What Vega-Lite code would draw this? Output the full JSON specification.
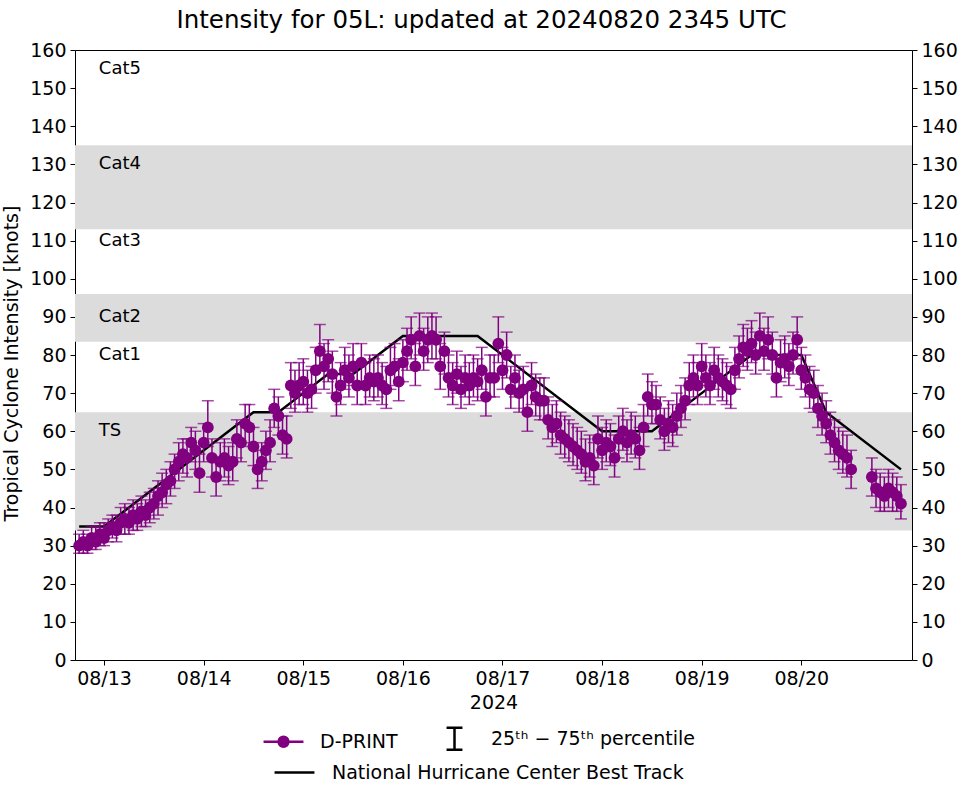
{
  "$schema": "https://vega.github.io/schema/vega-lite/v6.json",
  "width": 837,
  "height": 610,
  "autosize": "none",
  "padding": {"left": 75, "top": 50, "right": 50, "bottom": 125},
  "background": "white",
  "config": {
    "font": "DejaVu Sans",
    "view": {"stroke": "black", "strokeWidth": 1},
    "axis": {"labelColor": "black", "titleColor": "black", "tickColor": "black", "titleFontWeight": "normal", "grid": false, "domain": false, "labelFont": "DejaVu Sans", "titleFont": "DejaVu Sans"},
    "axisX": {"format": "%m/%d", "labelOverlap": false, "labelFontSize": 19, "labelPadding": 4, "tickSize": 5, "titleFontSize": 19, "titlePadding": 5},
    "text": {"font": "DejaVu Sans"}
  },
  "title": {"text": "Intensity for 05L: updated at 20240820 2345 UTC", "fontSize": 24.5, "fontWeight": "normal", "anchor": "middle", "frame": "group", "dx": -12, "offset": 8, "color": "black", "font": "DejaVu Sans"},
  "datasets": {
    "bands": [{"lo": 34, "hi": 65}, {"lo": 83.5, "hi": 96}, {"lo": 113, "hi": 135}],
    "cats": [{"label": "TS", "v": 60}, {"label": "Cat1", "v": 80}, {"label": "Cat2", "v": 90}, {"label": "Cat3", "v": 110}, {"label": "Cat4", "v": 130}, {"label": "Cat5", "v": 155}],
    "bt": [
      {"t": "2024-08-12T18:00", "v": 35}, {"t": "2024-08-13T00:00", "v": 35}, {"t": "2024-08-14T12:00", "v": 65}, {"t": "2024-08-14T18:00", "v": 65},
      {"t": "2024-08-15T00:00", "v": 70}, {"t": "2024-08-15T06:00", "v": 75}, {"t": "2024-08-15T12:00", "v": 75}, {"t": "2024-08-15T18:00", "v": 80},
      {"t": "2024-08-16T00:00", "v": 85}, {"t": "2024-08-16T18:00", "v": 85}, {"t": "2024-08-18T00:00", "v": 60}, {"t": "2024-08-18T12:00", "v": 60},
      {"t": "2024-08-19T00:00", "v": 70}, {"t": "2024-08-19T12:00", "v": 80}, {"t": "2024-08-20T00:00", "v": 80}, {"t": "2024-08-20T06:00", "v": 65},
      {"t": "2024-08-21T00:00", "v": 50}
    ],
    "leg1": [{"s": "D-PRINT"}, {"s": "25ᵗʰ − 75ᵗʰ percentile"}],
    "leg2": [{"b": "National Hurricane Center Best Track"}],
    "dp": [
      {"t": "2024-08-12T18:00", "v": 30, "lo": 28, "hi": 33},
      {"t": "2024-08-12T19:00", "v": 31, "lo": 28, "hi": 34},
      {"t": "2024-08-12T20:00", "v": 30, "lo": 28, "hi": 33},
      {"t": "2024-08-12T21:00", "v": 32, "lo": 29, "hi": 35},
      {"t": "2024-08-12T22:00", "v": 31, "lo": 29, "hi": 35},
      {"t": "2024-08-12T23:00", "v": 33, "lo": 30, "hi": 36},
      {"t": "2024-08-13T00:00", "v": 32, "lo": 30, "hi": 36},
      {"t": "2024-08-13T01:00", "v": 34, "lo": 31, "hi": 37},
      {"t": "2024-08-13T02:00", "v": 35, "lo": 32, "hi": 38},
      {"t": "2024-08-13T03:00", "v": 34, "lo": 31, "hi": 38},
      {"t": "2024-08-13T04:00", "v": 36, "lo": 33, "hi": 40},
      {"t": "2024-08-13T05:00", "v": 37, "lo": 33, "hi": 41},
      {"t": "2024-08-13T06:00", "v": 36, "lo": 33, "hi": 40},
      {"t": "2024-08-13T07:00", "v": 38, "lo": 34, "hi": 42},
      {"t": "2024-08-13T08:00", "v": 37, "lo": 34, "hi": 41},
      {"t": "2024-08-13T09:00", "v": 39, "lo": 35, "hi": 43},
      {"t": "2024-08-13T10:00", "v": 38, "lo": 35, "hi": 42},
      {"t": "2024-08-13T11:00", "v": 40, "lo": 36, "hi": 44},
      {"t": "2024-08-13T12:00", "v": 41, "lo": 37, "hi": 45},
      {"t": "2024-08-13T13:00", "v": 43, "lo": 38, "hi": 47},
      {"t": "2024-08-13T14:00", "v": 44, "lo": 40, "hi": 49},
      {"t": "2024-08-13T15:00", "v": 46, "lo": 41, "hi": 50},
      {"t": "2024-08-13T16:00", "v": 47, "lo": 43, "hi": 52},
      {"t": "2024-08-13T17:00", "v": 50, "lo": 45, "hi": 54},
      {"t": "2024-08-13T18:00", "v": 52, "lo": 47, "hi": 57},
      {"t": "2024-08-13T19:00", "v": 54, "lo": 49, "hi": 58},
      {"t": "2024-08-13T20:00", "v": 53, "lo": 48, "hi": 58},
      {"t": "2024-08-13T21:00", "v": 57, "lo": 52, "hi": 61},
      {"t": "2024-08-13T22:00", "v": 55, "lo": 50, "hi": 60},
      {"t": "2024-08-13T23:00", "v": 49, "lo": 44, "hi": 54},
      {"t": "2024-08-14T00:00", "v": 57, "lo": 52, "hi": 62},
      {"t": "2024-08-14T01:00", "v": 61, "lo": 56, "hi": 68},
      {"t": "2024-08-14T02:00", "v": 53, "lo": 48, "hi": 58},
      {"t": "2024-08-14T03:00", "v": 48, "lo": 43, "hi": 53},
      {"t": "2024-08-14T04:00", "v": 52, "lo": 47, "hi": 57},
      {"t": "2024-08-14T05:00", "v": 53, "lo": 48, "hi": 58},
      {"t": "2024-08-14T06:00", "v": 51, "lo": 46, "hi": 56},
      {"t": "2024-08-14T07:00", "v": 52, "lo": 47, "hi": 57},
      {"t": "2024-08-14T08:00", "v": 58, "lo": 53, "hi": 63},
      {"t": "2024-08-14T09:00", "v": 57, "lo": 52, "hi": 62},
      {"t": "2024-08-14T10:00", "v": 62, "lo": 57, "hi": 67},
      {"t": "2024-08-14T11:00", "v": 61, "lo": 56, "hi": 67},
      {"t": "2024-08-14T12:00", "v": 56, "lo": 51, "hi": 61},
      {"t": "2024-08-14T13:00", "v": 50, "lo": 45, "hi": 55},
      {"t": "2024-08-14T14:00", "v": 52, "lo": 47, "hi": 57},
      {"t": "2024-08-14T15:00", "v": 55, "lo": 50, "hi": 60},
      {"t": "2024-08-14T16:00", "v": 57, "lo": 52, "hi": 63},
      {"t": "2024-08-14T17:00", "v": 66, "lo": 61, "hi": 71},
      {"t": "2024-08-14T18:00", "v": 64, "lo": 59, "hi": 69},
      {"t": "2024-08-14T19:00", "v": 59, "lo": 54, "hi": 64},
      {"t": "2024-08-14T20:00", "v": 58, "lo": 53, "hi": 64},
      {"t": "2024-08-14T21:00", "v": 72, "lo": 66, "hi": 78},
      {"t": "2024-08-14T22:00", "v": 70, "lo": 65, "hi": 76},
      {"t": "2024-08-14T23:00", "v": 72, "lo": 67, "hi": 78},
      {"t": "2024-08-15T00:00", "v": 73, "lo": 67, "hi": 79},
      {"t": "2024-08-15T01:00", "v": 70, "lo": 65, "hi": 76},
      {"t": "2024-08-15T02:00", "v": 71, "lo": 66, "hi": 77},
      {"t": "2024-08-15T03:00", "v": 76, "lo": 70, "hi": 82},
      {"t": "2024-08-15T04:00", "v": 81, "lo": 76, "hi": 88},
      {"t": "2024-08-15T05:00", "v": 77, "lo": 71, "hi": 83},
      {"t": "2024-08-15T06:00", "v": 79, "lo": 73, "hi": 84},
      {"t": "2024-08-15T07:00", "v": 75, "lo": 70, "hi": 81},
      {"t": "2024-08-15T08:00", "v": 69, "lo": 64, "hi": 75},
      {"t": "2024-08-15T09:00", "v": 72, "lo": 67, "hi": 78},
      {"t": "2024-08-15T10:00", "v": 76, "lo": 71, "hi": 82},
      {"t": "2024-08-15T11:00", "v": 74, "lo": 69, "hi": 80},
      {"t": "2024-08-15T12:00", "v": 77, "lo": 72, "hi": 83},
      {"t": "2024-08-15T13:00", "v": 72, "lo": 67, "hi": 78},
      {"t": "2024-08-15T14:00", "v": 78, "lo": 72, "hi": 83},
      {"t": "2024-08-15T15:00", "v": 72, "lo": 67, "hi": 78},
      {"t": "2024-08-15T16:00", "v": 74, "lo": 69, "hi": 80},
      {"t": "2024-08-15T17:00", "v": 73, "lo": 68, "hi": 79},
      {"t": "2024-08-15T18:00", "v": 74, "lo": 69, "hi": 80},
      {"t": "2024-08-15T19:00", "v": 72, "lo": 67, "hi": 78},
      {"t": "2024-08-15T20:00", "v": 71, "lo": 66, "hi": 77},
      {"t": "2024-08-15T21:00", "v": 76, "lo": 71, "hi": 82},
      {"t": "2024-08-15T22:00", "v": 77, "lo": 72, "hi": 83},
      {"t": "2024-08-15T23:00", "v": 73, "lo": 68, "hi": 79},
      {"t": "2024-08-16T00:00", "v": 78, "lo": 73, "hi": 84},
      {"t": "2024-08-16T01:00", "v": 81, "lo": 76, "hi": 87},
      {"t": "2024-08-16T02:00", "v": 84, "lo": 79, "hi": 90},
      {"t": "2024-08-16T03:00", "v": 77, "lo": 72, "hi": 83},
      {"t": "2024-08-16T04:00", "v": 85, "lo": 80, "hi": 91},
      {"t": "2024-08-16T05:00", "v": 81, "lo": 76, "hi": 87},
      {"t": "2024-08-16T06:00", "v": 84, "lo": 78, "hi": 90},
      {"t": "2024-08-16T07:00", "v": 85, "lo": 79, "hi": 91},
      {"t": "2024-08-16T08:00", "v": 84, "lo": 79, "hi": 90},
      {"t": "2024-08-16T09:00", "v": 77, "lo": 71, "hi": 83},
      {"t": "2024-08-16T10:00", "v": 81, "lo": 75, "hi": 86},
      {"t": "2024-08-16T11:00", "v": 74, "lo": 69, "hi": 80},
      {"t": "2024-08-16T12:00", "v": 72, "lo": 67, "hi": 78},
      {"t": "2024-08-16T13:00", "v": 75, "lo": 70, "hi": 81},
      {"t": "2024-08-16T14:00", "v": 71, "lo": 66, "hi": 77},
      {"t": "2024-08-16T15:00", "v": 74, "lo": 69, "hi": 80},
      {"t": "2024-08-16T16:00", "v": 72, "lo": 67, "hi": 78},
      {"t": "2024-08-16T17:00", "v": 74, "lo": 69, "hi": 80},
      {"t": "2024-08-16T18:00", "v": 73, "lo": 68, "hi": 79},
      {"t": "2024-08-16T19:00", "v": 76, "lo": 71, "hi": 82},
      {"t": "2024-08-16T20:00", "v": 69, "lo": 64, "hi": 75},
      {"t": "2024-08-16T21:00", "v": 74, "lo": 69, "hi": 80},
      {"t": "2024-08-16T22:00", "v": 74, "lo": 69, "hi": 80},
      {"t": "2024-08-16T23:00", "v": 83, "lo": 78, "hi": 90},
      {"t": "2024-08-17T00:00", "v": 76, "lo": 71, "hi": 82},
      {"t": "2024-08-17T01:00", "v": 80, "lo": 74, "hi": 86},
      {"t": "2024-08-17T02:00", "v": 71, "lo": 66, "hi": 77},
      {"t": "2024-08-17T03:00", "v": 74, "lo": 69, "hi": 80},
      {"t": "2024-08-17T04:00", "v": 70, "lo": 65, "hi": 76},
      {"t": "2024-08-17T05:00", "v": 71, "lo": 66, "hi": 77},
      {"t": "2024-08-17T06:00", "v": 65, "lo": 60, "hi": 71},
      {"t": "2024-08-17T07:00", "v": 72, "lo": 67, "hi": 78},
      {"t": "2024-08-17T08:00", "v": 69, "lo": 64, "hi": 75},
      {"t": "2024-08-17T09:00", "v": 68, "lo": 63, "hi": 74},
      {"t": "2024-08-17T10:00", "v": 68, "lo": 63, "hi": 74},
      {"t": "2024-08-17T11:00", "v": 63, "lo": 58, "hi": 69},
      {"t": "2024-08-17T12:00", "v": 61, "lo": 56, "hi": 67},
      {"t": "2024-08-17T13:00", "v": 62, "lo": 57, "hi": 68},
      {"t": "2024-08-17T14:00", "v": 59, "lo": 54, "hi": 65},
      {"t": "2024-08-17T15:00", "v": 58, "lo": 53, "hi": 64},
      {"t": "2024-08-17T16:00", "v": 57, "lo": 52, "hi": 63},
      {"t": "2024-08-17T17:00", "v": 56, "lo": 51, "hi": 62},
      {"t": "2024-08-17T18:00", "v": 55, "lo": 50, "hi": 61},
      {"t": "2024-08-17T19:00", "v": 54, "lo": 49, "hi": 60},
      {"t": "2024-08-17T20:00", "v": 52, "lo": 47, "hi": 58},
      {"t": "2024-08-17T21:00", "v": 53, "lo": 48, "hi": 59},
      {"t": "2024-08-17T22:00", "v": 51, "lo": 46, "hi": 57},
      {"t": "2024-08-17T23:00", "v": 58, "lo": 53, "hi": 64},
      {"t": "2024-08-18T00:00", "v": 55, "lo": 50, "hi": 61},
      {"t": "2024-08-18T01:00", "v": 57, "lo": 52, "hi": 63},
      {"t": "2024-08-18T02:00", "v": 56, "lo": 51, "hi": 62},
      {"t": "2024-08-18T03:00", "v": 53, "lo": 48, "hi": 59},
      {"t": "2024-08-18T04:00", "v": 58, "lo": 53, "hi": 64},
      {"t": "2024-08-18T05:00", "v": 60, "lo": 55, "hi": 66},
      {"t": "2024-08-18T06:00", "v": 57, "lo": 52, "hi": 63},
      {"t": "2024-08-18T07:00", "v": 59, "lo": 54, "hi": 65},
      {"t": "2024-08-18T08:00", "v": 58, "lo": 53, "hi": 64},
      {"t": "2024-08-18T09:00", "v": 55, "lo": 50, "hi": 61},
      {"t": "2024-08-18T10:00", "v": 61, "lo": 56, "hi": 67},
      {"t": "2024-08-18T11:00", "v": 69, "lo": 64, "hi": 75},
      {"t": "2024-08-18T12:00", "v": 67, "lo": 62, "hi": 73},
      {"t": "2024-08-18T13:00", "v": 67, "lo": 62, "hi": 72},
      {"t": "2024-08-18T14:00", "v": 63, "lo": 58, "hi": 69},
      {"t": "2024-08-18T15:00", "v": 60, "lo": 55, "hi": 66},
      {"t": "2024-08-18T16:00", "v": 62, "lo": 57, "hi": 68},
      {"t": "2024-08-18T17:00", "v": 61, "lo": 56, "hi": 67},
      {"t": "2024-08-18T18:00", "v": 64, "lo": 59, "hi": 70},
      {"t": "2024-08-18T19:00", "v": 66, "lo": 61, "hi": 72},
      {"t": "2024-08-18T20:00", "v": 68, "lo": 63, "hi": 74},
      {"t": "2024-08-18T21:00", "v": 72, "lo": 67, "hi": 78},
      {"t": "2024-08-18T22:00", "v": 74, "lo": 69, "hi": 80},
      {"t": "2024-08-18T23:00", "v": 72, "lo": 67, "hi": 78},
      {"t": "2024-08-19T00:00", "v": 77, "lo": 72, "hi": 83},
      {"t": "2024-08-19T01:00", "v": 74, "lo": 69, "hi": 80},
      {"t": "2024-08-19T02:00", "v": 72, "lo": 67, "hi": 78},
      {"t": "2024-08-19T03:00", "v": 76, "lo": 71, "hi": 82},
      {"t": "2024-08-19T04:00", "v": 74, "lo": 69, "hi": 80},
      {"t": "2024-08-19T05:00", "v": 73, "lo": 68, "hi": 79},
      {"t": "2024-08-19T06:00", "v": 72, "lo": 67, "hi": 78},
      {"t": "2024-08-19T07:00", "v": 71, "lo": 66, "hi": 77},
      {"t": "2024-08-19T08:00", "v": 76, "lo": 71, "hi": 82},
      {"t": "2024-08-19T09:00", "v": 79, "lo": 74, "hi": 85},
      {"t": "2024-08-19T10:00", "v": 82, "lo": 77, "hi": 88},
      {"t": "2024-08-19T11:00", "v": 81, "lo": 76, "hi": 87},
      {"t": "2024-08-19T12:00", "v": 83, "lo": 78, "hi": 89},
      {"t": "2024-08-19T13:00", "v": 80, "lo": 75, "hi": 86},
      {"t": "2024-08-19T14:00", "v": 85, "lo": 80, "hi": 91},
      {"t": "2024-08-19T15:00", "v": 81, "lo": 76, "hi": 87},
      {"t": "2024-08-19T16:00", "v": 84, "lo": 79, "hi": 90},
      {"t": "2024-08-19T17:00", "v": 80, "lo": 75, "hi": 86},
      {"t": "2024-08-19T18:00", "v": 74, "lo": 69, "hi": 80},
      {"t": "2024-08-19T19:00", "v": 78, "lo": 73, "hi": 84},
      {"t": "2024-08-19T20:00", "v": 79, "lo": 74, "hi": 85},
      {"t": "2024-08-19T21:00", "v": 77, "lo": 72, "hi": 83},
      {"t": "2024-08-19T22:00", "v": 80, "lo": 75, "hi": 86},
      {"t": "2024-08-19T23:00", "v": 84, "lo": 79, "hi": 90},
      {"t": "2024-08-20T00:00", "v": 76, "lo": 71, "hi": 82},
      {"t": "2024-08-20T01:00", "v": 74, "lo": 69, "hi": 80},
      {"t": "2024-08-20T02:00", "v": 71, "lo": 66, "hi": 77},
      {"t": "2024-08-20T03:00", "v": 70, "lo": 65, "hi": 76},
      {"t": "2024-08-20T04:00", "v": 66, "lo": 61, "hi": 72},
      {"t": "2024-08-20T05:00", "v": 64, "lo": 59, "hi": 70},
      {"t": "2024-08-20T06:00", "v": 62, "lo": 57, "hi": 68},
      {"t": "2024-08-20T07:00", "v": 59, "lo": 54, "hi": 65},
      {"t": "2024-08-20T08:00", "v": 57, "lo": 52, "hi": 63},
      {"t": "2024-08-20T09:00", "v": 55, "lo": 50, "hi": 61},
      {"t": "2024-08-20T10:00", "v": 54, "lo": 49, "hi": 60},
      {"t": "2024-08-20T11:00", "v": 53, "lo": 48, "hi": 59},
      {"t": "2024-08-20T12:00", "v": 50, "lo": 45, "hi": 55},
      {"t": "2024-08-20T17:00", "v": 48, "lo": 43, "hi": 53},
      {"t": "2024-08-20T18:00", "v": 45, "lo": 40, "hi": 50},
      {"t": "2024-08-20T19:00", "v": 44, "lo": 39, "hi": 49},
      {"t": "2024-08-20T20:00", "v": 43, "lo": 39, "hi": 48},
      {"t": "2024-08-20T21:00", "v": 45, "lo": 40, "hi": 50},
      {"t": "2024-08-20T22:00", "v": 44, "lo": 39, "hi": 49},
      {"t": "2024-08-20T23:00", "v": 43, "lo": 39, "hi": 48},
      {"t": "2024-08-21T00:00", "v": 41, "lo": 37, "hi": 46}
    ]
  },
  "layer": [
    {
      "data": {"name": "bands"},
      "mark": {"type": "rect", "color": "#dcdcdc"},
      "encoding": {
        "y": {"field": "lo", "type": "quantitative", "scale": {"domain": [0, 160], "nice": false, "zero": false},
              "axis": {"orient": "left", "values": [0,10,20,30,40,50,60,70,80,90,100,110,120,130,140,150,160], "labelFontSize": 19, "tickSize": 5, "labelPadding": 4, "title": "Tropical Cyclone Intensity [knots]", "titleFontSize": 19, "titlePadding": 8, "titleY": 313}},
        "y2": {"field": "hi"}
      }
    },
    {
      "data": {"name": "cats"},
      "mark": {"type": "text", "align": "left", "baseline": "middle", "fontSize": 18, "color": "black"},
      "encoding": {
        "x": {"datum": {"year": 2024, "month": 8, "date": 12, "hours": 22, "minutes": 45}, "type": "temporal",
              "axis": {"title": "2024", "values": [{"year": 2024, "month": 8, "date": 13}, {"year": 2024, "month": 8, "date": 14}, {"year": 2024, "month": 8, "date": 15}, {"year": 2024, "month": 8, "date": 16}, {"year": 2024, "month": 8, "date": 17}, {"year": 2024, "month": 8, "date": 18}, {"year": 2024, "month": 8, "date": 19}, {"year": 2024, "month": 8, "date": 20}]}},
        "y": {"field": "v", "type": "quantitative", "axis": null},
        "text": {"field": "label"}
      }
    },
    {
      "data": {"name": "bt"},
      "mark": {"type": "line", "color": "black", "strokeWidth": 2.5},
      "encoding": {
        "x": {"field": "t", "type": "temporal",
              "scale": {"domain": [{"year": 2024, "month": 8, "date": 12, "hours": 17, "minutes": 0}, {"year": 2024, "month": 8, "date": 21, "hours": 2, "minutes": 40}], "nice": false},
              "axis": {"title": "2024", "values": [{"year": 2024, "month": 8, "date": 13}, {"year": 2024, "month": 8, "date": 14}, {"year": 2024, "month": 8, "date": 15}, {"year": 2024, "month": 8, "date": 16}, {"year": 2024, "month": 8, "date": 17}, {"year": 2024, "month": 8, "date": 18}, {"year": 2024, "month": 8, "date": 19}, {"year": 2024, "month": 8, "date": 20}]}},
        "y": {"field": "v", "type": "quantitative",
              "axis": {"orient": "right", "values": [0,10,20,30,40,50,60,70,80,90,100,110,120,130,140,150,160], "labelFontSize": 19, "tickSize": 5, "labelPadding": 4, "title": null}}
      }
    },
    {
      "data": {"name": "dp"},
      "mark": {"type": "errorbar", "color": "#800080", "ticks": {"size": 12, "thickness": 1.5}, "rule": {"strokeWidth": 1.5}},
      "encoding": {
        "x": {"field": "t", "type": "temporal",
              "axis": {"title": "2024", "values": [{"year": 2024, "month": 8, "date": 13}, {"year": 2024, "month": 8, "date": 14}, {"year": 2024, "month": 8, "date": 15}, {"year": 2024, "month": 8, "date": 16}, {"year": 2024, "month": 8, "date": 17}, {"year": 2024, "month": 8, "date": 18}, {"year": 2024, "month": 8, "date": 19}, {"year": 2024, "month": 8, "date": 20}]}},
        "y": {"field": "lo", "type": "quantitative", "axis": null},
        "y2": {"field": "hi"}
      }
    },
    {
      "data": {"name": "dp"},
      "mark": {"type": "circle", "color": "#800080", "size": 140, "opacity": 1},
      "encoding": {
        "x": {"field": "t", "type": "temporal",
              "axis": {"title": "2024", "values": [{"year": 2024, "month": 8, "date": 13}, {"year": 2024, "month": 8, "date": 14}, {"year": 2024, "month": 8, "date": 15}, {"year": 2024, "month": 8, "date": 16}, {"year": 2024, "month": 8, "date": 17}, {"year": 2024, "month": 8, "date": 18}, {"year": 2024, "month": 8, "date": 19}, {"year": 2024, "month": 8, "date": 20}]}},
        "y": {"field": "v", "type": "quantitative", "axis": null}
      }
    },
    {
      "data": {"name": "leg1"},
      "mark": {"type": "point", "opacity": 0},
      "encoding": {
        "shape": {"field": "s", "type": "nominal",
                  "scale": {"domain": ["D-PRINT", "25ᵗʰ − 75ᵗʰ percentile"],
                            "range": ["M-1.33,0H1.33M0.33,0A0.33,0.33,0,1,1,-0.33,0A0.33,0.33,0,1,1,0.33,0Z", "M-0.53,-0.73H0.53M0,-0.73V0.73M-0.53,0.73H0.53"]},
                  "legend": {"title": null, "orient": "none", "legendX": 192, "legendY": 672, "direction": "horizontal",
                             "symbolSize": 900, "symbolStrokeWidth": 2.5, "symbolOpacity": 1, "labelFontSize": 19, "labelLimit": 600, "labelOffset": 20, "columnPadding": 40, "labelColor": "black", "labelFont": "DejaVu Sans"}},
        "fill": {"field": "s", "type": "nominal", "scale": {"domain": ["D-PRINT", "25ᵗʰ − 75ᵗʰ percentile"], "range": ["#800080", "black"]}},
        "stroke": {"field": "s", "type": "nominal", "scale": {"domain": ["D-PRINT", "25ᵗʰ − 75ᵗʰ percentile"], "range": ["#800080", "black"]}}
      }
    },
    {
      "data": {"name": "leg2"},
      "mark": {"type": "point", "opacity": 0},
      "encoding": {
        "strokeDash": {"field": "b", "type": "nominal",
                  "scale": {"domain": ["National Hurricane Center Best Track"], "range": [[1, 0]]},
                  "legend": {"title": null, "orient": "none", "legendX": 203, "legendY": 706, "direction": "horizontal",
                             "symbolType": "M-1.33,0H1.33", "symbolStrokeColor": "black", "symbolFillColor": "transparent",
                             "symbolSize": 900, "symbolStrokeWidth": 2.5, "symbolOpacity": 1, "labelFontSize": 19, "labelLimit": 600, "labelOffset": 21, "labelColor": "black", "labelFont": "DejaVu Sans"}}
      }
    }
  ],
  "resolve": {"axis": {"y": "independent"}}
}
